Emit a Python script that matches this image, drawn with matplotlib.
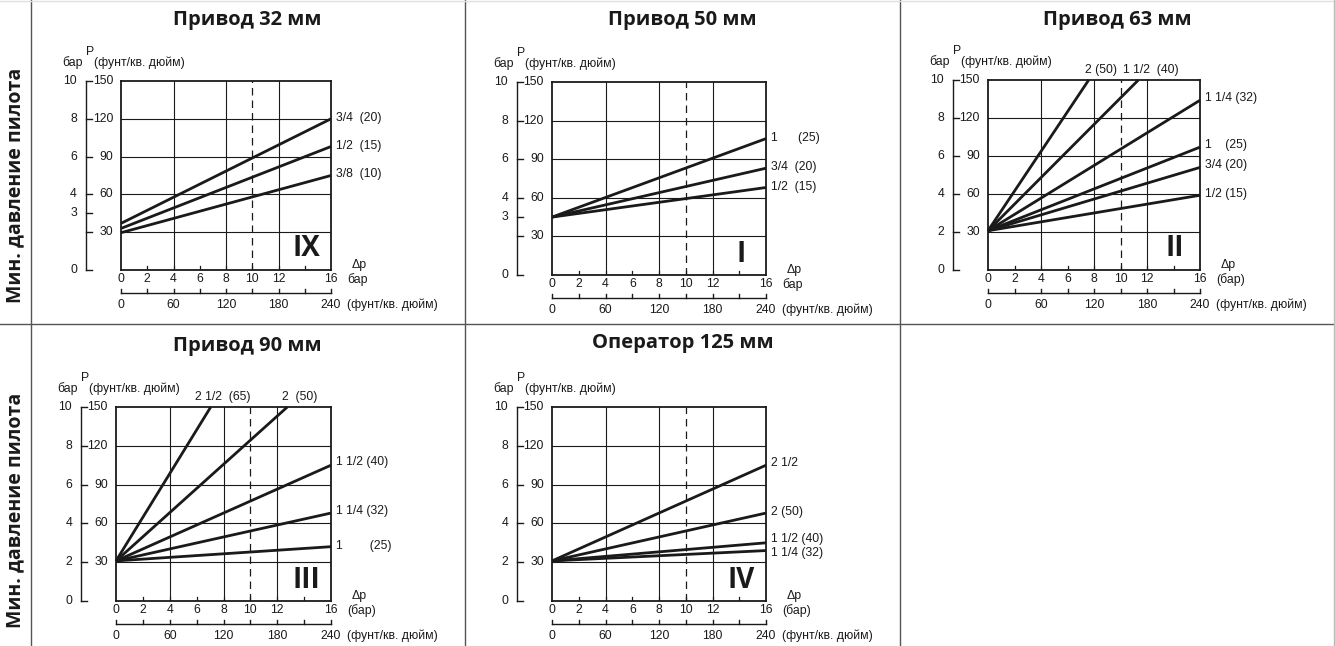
import matplotlib
matplotlib.use("Agg")
import matplotlib.pyplot as plt
from matplotlib.lines import Line2D

W, H = 1335, 646

# ---------------- data ----------------
titles = ["Привод 32 мм", "Привод 50 мм", "Привод 63 мм", "Привод 90 мм", "Оператор 125 мм"]
romans = ["IX", "I", "II", "III", "IV"]
side_label = "Мин. давление пилота"

dp_tick_vals = [0, 2, 4, 6, 8, 10, 12, 16]
dp_tick_labels = ["0", "2", "4", "6", "8", "10", "12", "16"]
psi_x_vals = [0, 60, 120, 180, 240]
psi_y_vals = [30, 60, 90, 120, 150]

bar_psi_a = [150, 120, 90, 60, 45, 30, 0]
bar_lab_a = ["10", "8", "6", "4", "3", "", "0"]
bar_psi_b = [150, 120, 90, 60, 30, 0]
bar_lab_b = ["10", "8", "6", "4", "2", "0"]

# Panel IX (32 mm): start P (psi), end Δp (bar), end P (psi)
ix_names = ["3/4  (20)", "1/2  (15)", "3/8  (10)"]
ix_p0 = [37, 33, 29.6]
ix_dp1 = [16, 16, 16]
ix_p1 = [120, 98, 75]

# Panel I (50 mm)
i_names = ["1      (25)", "3/4  (20)", "1/2  (15)"]
i_p0 = [45, 45, 45]
i_dp1 = [16, 16, 16]
i_p1 = [106, 83, 68]

# Panel II (63 mm)
ii_names = ["2 (50)", "1 1/2  (40)", "1 1/4 (32)", "1    (25)", "3/4 (20)", "1/2 (15)"]
ii_p0 = [31, 31, 31, 31, 31, 31]
ii_dp1 = [7.6, 11.35, 16, 16, 16, 16]
ii_p1 = [150, 150, 134, 97, 81, 59]

# Panel III (90 mm)
iii_names = ["2 1/2  (65)", "2  (50)", "1 1/2 (40)", "1 1/4 (32)", "1        (25)"]
iii_p0 = [31, 31, 31, 31, 31]
iii_dp1 = [7.05, 12.75, 16, 16, 16]
iii_p1 = [150, 150, 105, 68, 42]

# Panel IV (125 mm)
iv_names = ["2 1/2", "2 (50)", "1 1/2 (40)", "1 1/4 (32)"]
iv_p0 = [31, 31, 31, 31]
iv_dp1 = [16, 16, 16, 16]
iv_p1 = [105, 68, 45, 39]

# ---------------- layout (pixels) ----------------
boxes = [(121, 81, 331, 270), (552, 82, 766, 275), (988, 80, 1200, 270),
         (116, 407, 331, 601), (552, 407, 766, 601)]
title_y = [20, 20, 20, 346, 343]
label_nudge = [[-1, -1, -1], [-1, -1, -1], [0, 0, -2, -2, -2, -1],
               [0, 0, -3, -2, -1], [-2, -1, -4, 2]]

TICK_FONT = "Liberation Sans"
BOLD_FONT = "Open Sans"
FS = 8.8
DARK = "#1a1a1a"

fig = plt.figure(figsize=(W / 100, H / 100), dpi=100)


def fx(x):
    return x / W


def fy(y):
    return 1 - y / H


def panel(k, names, p0, dp1, p1, bar_psi, bar_lab, paren_bar):
    x0, y0, x1, y1 = boxes[k]
    w, h = x1 - x0, y1 - y0
    ax = fig.add_axes([fx(x0), fy(y1), w / W, h / H])
    ax.set_xlim(0, 16)
    ax.set_ylim(0, 150)
    ax.set_xticks([])
    ax.set_yticks([])
    for s in ax.spines.values():
        s.set_linewidth(1.3)
        s.set_color(DARK)
    # grid
    for v in psi_y_vals[:-1]:
        ax.axhline(v, color=DARK, lw=0.8, zorder=1)
    for v in [4, 8, 12]:
        ax.axvline(v, color=DARK, lw=0.8, zorder=1)
    ax.axvline(10, color=DARK, lw=0.9, ls=(0, (6, 4)), zorder=1)
    xt = ax.get_xaxis_transform()
    yt = ax.get_yaxis_transform()
    for v in range(2, 16, 2):
        ax.plot([v, v], [0, 4 / h], transform=xt, color=DARK, lw=0.9)
    # series
    for j in range(len(names)):
        ax.plot([0, dp1[j]], [p0[j], p1[j]], color=DARK, lw=2.0,
                solid_capstyle="butt", zorder=3, clip_on=False)
        if dp1[j] < 16:
            ax.annotate(names[j], xy=(dp1[j], 1), xycoords=xt,
                        xytext=(12, 10 + label_nudge[k][j]), textcoords="offset pixels",
                        ha="center", va="center", fontsize=FS, family=TICK_FONT,
                        color=DARK, annotation_clip=False)
        else:
            ax.annotate(names[j], xy=(16, p1[j]),
                        xytext=(5, -label_nudge[k][j]), textcoords="offset pixels",
                        ha="left", va="center", fontsize=FS, family=TICK_FONT,
                        color=DARK, annotation_clip=False)
    # bar / psi left axis
    off = -35 / w
    ax.plot([off, off], [0, 150], transform=yt, color=DARK, lw=1.0, clip_on=False)
    for v, lab in zip(bar_psi, bar_lab):
        ax.plot([off, off + 6 / w], [v, v], transform=yt, color=DARK, lw=1.0, clip_on=False)
        if lab:
            ax.text(off - 9 / w, v, lab, transform=yt, ha="right", va="center",
                    fontsize=FS, family=TICK_FONT, color=DARK)
    for v in psi_y_vals:
        ax.text(-8 / w, v, str(v), transform=yt, ha="right", va="center",
                fontsize=FS, family=TICK_FONT, color=DARK)
    # header
    ax.text(off + 4 / w, 1 + 29 / h, "P", transform=ax.transAxes, ha="center",
            va="center", fontsize=FS, family=TICK_FONT, color=DARK)
    ax.text(off - 3 / w, 1 + 18 / h, "бар", transform=ax.transAxes, ha="right",
            va="center", fontsize=FS, family=TICK_FONT, color=DARK)
    ax.text(off + 8 / w, 1 + 18 / h, "(фунт/кв. дюйм)", transform=ax.transAxes,
            ha="left", va="center", fontsize=FS, family=TICK_FONT, color=DARK)
    # main x labels
    for v, lab in zip(dp_tick_vals, dp_tick_labels):
        ax.text(v, -9 / h, lab, transform=xt, ha="center", va="center",
                fontsize=FS, family=TICK_FONT, color=DARK)
    ax.text(1 + 28 / w, 5 / h, "Δp", transform=ax.transAxes, ha="center",
            va="center", fontsize=FS, family=TICK_FONT, color=DARK)
    ax.text(1 + 16 / w, -10 / h, "(бар)" if paren_bar else "бар",
            transform=ax.transAxes, ha="left", va="center", fontsize=FS,
            family=TICK_FONT, color=DARK)
    # psi x axis
    yo = -23 / h
    ax.plot([0, 16], [yo, yo], transform=xt, color=DARK, lw=1.0, clip_on=False)
    for v in range(0, 17, 2):
        ax.plot([v, v], [yo, yo + 4 / h], transform=xt, color=DARK, lw=1.0, clip_on=False)
    for v in psi_x_vals:
        ax.text(v / 15, yo - 12 / h, str(v), transform=xt, ha="center", va="center",
                fontsize=FS, family=TICK_FONT, color=DARK)
    ax.text(1 + 16 / w, yo - 12 / h, "(фунт/кв. дюйм)", transform=ax.transAxes,
            ha="left", va="center", fontsize=FS, family=TICK_FONT, color=DARK)
    # roman numeral
    ax.text(1 - 25 / w, 21 / h, romans[k], transform=ax.transAxes, ha="center",
            va="center", fontsize=20, fontweight="bold", family=BOLD_FONT, color=DARK)
    # title
    cx = [247.5, 682.5, 1117.5, 247.5, 682.5][k]
    fig.text(fx(cx), fy(title_y[k]), titles[k], ha="center", va="center",
             fontsize=14.5, fontweight="bold", family=BOLD_FONT, color=DARK)
    return ax


panel(0, ix_names, ix_p0, ix_dp1, ix_p1, bar_psi_a, bar_lab_a, False)
panel(1, i_names, i_p0, i_dp1, i_p1, bar_psi_a, bar_lab_a, False)
panel(2, ii_names, ii_p0, ii_dp1, ii_p1, bar_psi_b, bar_lab_b, True)
panel(3, iii_names, iii_p0, iii_dp1, iii_p1, bar_psi_b, bar_lab_b, True)
panel(4, iv_names, iv_p0, iv_dp1, iv_p1, bar_psi_b, bar_lab_b, True)

# side labels
for yc in [185, 510]:
    fig.text(fx(15), fy(yc), side_label, rotation=90, ha="center", va="center",
             fontsize=14, fontweight="bold", family=BOLD_FONT, color=DARK)

# table lines
GRID = "#555555"
for x in [30.5, 465, 900]:
    fig.add_artist(Line2D([fx(x), fx(x)], [0, 1], color=GRID, lw=1.0))
fig.add_artist(Line2D([0, 1], [fy(324), fy(324)], color=GRID, lw=1.0))
fig.add_artist(Line2D([0, 1], [fy(0.5), fy(0.5)], color="#e0e0e0", lw=1.0))
fig.add_artist(Line2D([fx(1334), fx(1334)], [0, 1], color="#bbbbbb", lw=1.0))

fig.savefig("out.png", dpi=100)
